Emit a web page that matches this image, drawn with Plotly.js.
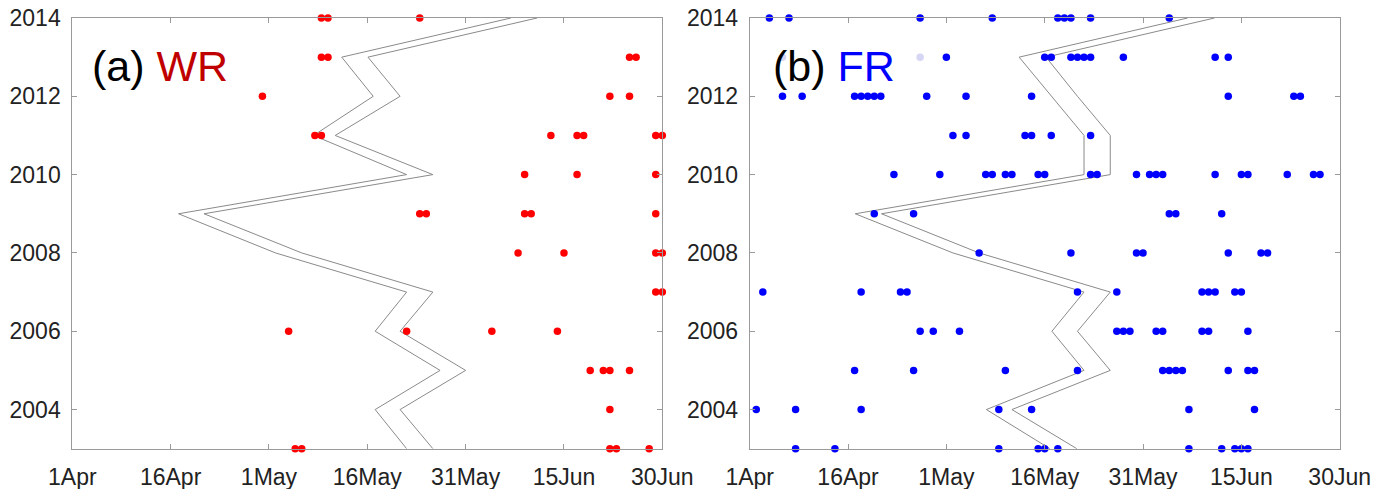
<!DOCTYPE html>
<html><head><meta charset="utf-8">
<script src="https://cdn.plot.ly/plotly-3.0.1.min.js"></script>
<style>html,body{margin:0;padding:0;background:#fff}#chart{width:1391px;height:489px}</style>
</head><body><div id="chart"></div>
<script>
// Years shown on the y axis (one row of dots per year)
const years = [2003,2004,2005,2006,2007,2008,2009,2010,2011,2012,2013,2014];
// x axis: days after 1 April
const tickDays = [0,15,30,45,60,75,90];
const tickLabels = ['1Apr','16Apr','1May','16May','31May','15Jun','30Jun'];
const yearTicks = [2004,2006,2008,2010,2012,2014];

// (a) WR event days (days after 1 Apr), one list per year 2003..2014
const wrDays = [
  [34,35,82,83,88],            // 2003
  [82],                        // 2004
  [79,81,82,85],               // 2005
  [33,51,64,74],               // 2006
  [89,90],                     // 2007
  [68,75,89,90],               // 2008
  [53,54,69,70,89],            // 2009
  [69,77,89],                  // 2010
  [37,38,73,77,78,89,90],      // 2011
  [29,82,85],                  // 2012
  [38,39,85,86],               // 2013
  [38,39,53]                   // 2014
];
// (b) FR event days, one list per year 2003..2014
const frDays = [
  [7,13,38,44,45,47,67,72,74,75,76],                          // 2003
  [1,7,17,38,43,67,77],                                       // 2004
  [16,25,39,50,63,64,65,66,73,76,77],                         // 2005
  [26,28,32,56,57,58,62,63,69,70,76],                         // 2006
  [2,17,23,24,50,56,69,70,71,74,75],                          // 2007
  [35,49,59,60,73,78,79],                                     // 2008
  [19,25,64,65,72],                                           // 2009
  [22,29,36,37,39,40,44,45,52,53,59,61,62,63,71,75,76,82,86,87], // 2010
  [31,33,42,43,46,52],                                        // 2011
  [5,8,16,17,18,19,20,27,33,43,73,83,84],                     // 2012
  [30,45,46,49,50,51,52,57,71,73],                            // 2013
  [3,6,26,37,47,48,49,52,64]                                  // 2014
];
// faded FR dots (partly hidden behind the panel label)
const frFadedDays = [5,26];
const frFadedYears = [2013,2013];

// band lines (days after 1 Apr) per year 2003..2014
const wrLow  = [51,46.2,56.1,46.2,51,31,16.2,51,36.8,45.9,41.1,66.9];
const wrHigh = [55,50,60,50,55,35,20.1,55,40.1,50,45.1,70.9];
const frLow  = [45.8,36.1,51,46.1,51,31,16.1,51,51,46.1,41.1,66.8];
const frHigh = [49.9,40,55,50,55,35,20.1,55,55,50,45.2,70.9];

function flat(daysList){
  const x=[], y=[];
  daysList.forEach((d,i)=>d.forEach(v=>{x.push(v); y.push(years[i]);}));
  return {x,y};
}
const wr = flat(wrDays), fr = flat(frDays);
const lineStyle = {color:'#8a8a8a', width:1};

const traces = [
  {x:wrLow, y:years, mode:'lines', line:lineStyle, xaxis:'x', yaxis:'y', hoverinfo:'skip'},
  {x:wrHigh, y:years, mode:'lines', line:lineStyle, xaxis:'x', yaxis:'y', hoverinfo:'skip'},
  {x:wr.x, y:wr.y, mode:'markers', marker:{color:'#ff0000', size:7.5}, xaxis:'x', yaxis:'y', cliponaxis:false},
  {x:frLow, y:years, mode:'lines', line:lineStyle, xaxis:'x2', yaxis:'y2', hoverinfo:'skip'},
  {x:frHigh, y:years, mode:'lines', line:lineStyle, xaxis:'x2', yaxis:'y2', hoverinfo:'skip'},
  {x:frFadedDays, y:frFadedYears, mode:'markers', marker:{color:'#d6d6f4', size:7.5}, xaxis:'x2', yaxis:'y2', cliponaxis:false},
  {x:fr.x, y:fr.y, mode:'markers', marker:{color:'#0000ff', size:7.5}, xaxis:'x2', yaxis:'y2', cliponaxis:false}
];

const W=1391, H=489;
const font = 'Arial, "Liberation Sans", Helvetica, sans-serif';
const xBase = {
  range:[0,90], tickmode:'array', tickvals:tickDays, ticktext:tickLabels,
  ticks:'inside', ticklen:5, tickcolor:'#9a9a9a', showline:true, linecolor:'#9a9a9a', linewidth:1,
  mirror:'ticks', showgrid:false, zeroline:false,
  tickfont:{family:font, size:23, color:'#222'}, ticklabelstandoff:8
};
const yBase = {
  range:[2003,2014], tickmode:'array', tickvals:yearTicks,
  ticks:'inside', ticklen:5, tickcolor:'#9a9a9a', showline:true, linecolor:'#9a9a9a', linewidth:1,
  mirror:'ticks', showgrid:false, zeroline:false,
  tickfont:{family:font, size:23, color:'#222'}, ticklabelstandoff:6
};
const yDom = [1-448.7/H, 1-18/H];
const layout = {
  width:W, height:H, margin:{l:0,r:0,t:0,b:0}, showlegend:false,
  paper_bgcolor:'#fff', plot_bgcolor:'#fff',
  xaxis:Object.assign({}, xBase, {domain:[72.3/W, 662.3/W], anchor:'y'}),
  yaxis:Object.assign({}, yBase, {domain:yDom, anchor:'x'}),
  xaxis2:Object.assign({}, xBase, {domain:[749.7/W, 1339.7/W], anchor:'y2'}),
  yaxis2:Object.assign({}, yBase, {domain:yDom, anchor:'x2'}),
  annotations:[
    {xref:'paper', yref:'paper', x:90/W, y:1-66/H, xanchor:'left', yanchor:'middle', showarrow:false,
     text:'(a) <span style="color:#c00000">WR</span>', font:{family:font, size:43, color:'#000'}},
    {xref:'paper', yref:'paper', x:771/W, y:1-66/H, xanchor:'left', yanchor:'middle', showarrow:false,
     text:'(b) <span style="color:#0000ff">FR</span>', font:{family:font, size:43, color:'#000'}}
  ]
};
Plotly.newPlot('chart', traces, layout, {displayModeBar:false, staticPlot:true});
</script>
</body></html>
